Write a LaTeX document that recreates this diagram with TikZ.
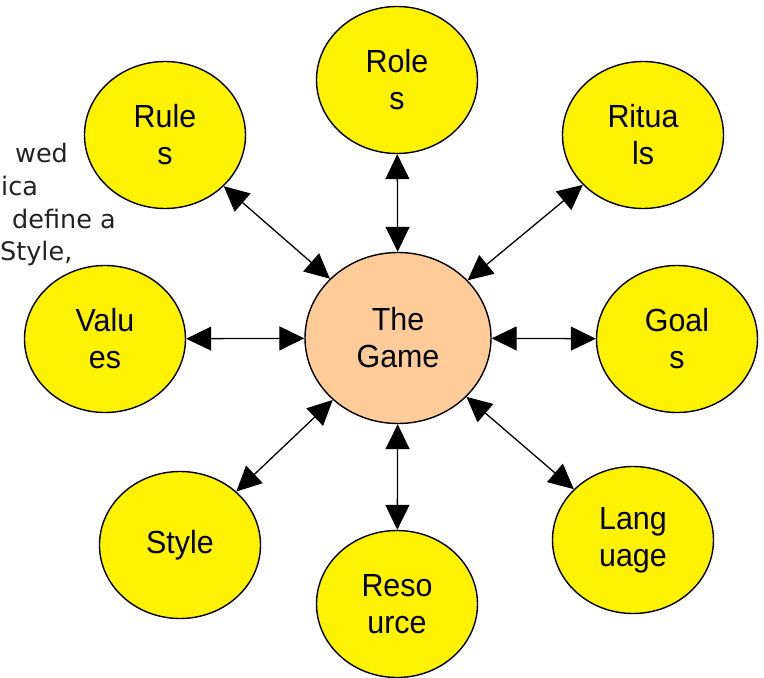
\documentclass[tikz,border=0pt]{standalone}
\usepackage{fontspec}
\setmainfont{Liberation Sans}
\newfontfamily\nodefont[FakeStretch=0.95]{Liberation Sans}
\newfontfamily\sidefont{DejaVu Sans}
\usetikzlibrary{shapes.geometric,arrows.meta}
\definecolor{peach}{HTML}{FFCC99}
\definecolor{sidegray}{HTML}{222222}
\tikzset{
  bubble/.style={ellipse, draw=black, line width=1.4bp, fill=yellow, inner sep=0pt,
    minimum width=161bp, minimum height=147bp, align=center,
    font=\nodefont\fontsize{32bp}{37bp}\selectfont},
  gamebubble/.style={bubble, fill=peach, minimum width=186bp, minimum height=171bp},
  link/.style={line width=1.3bp, {Triangle[length=25bp,width=24bp]}-{Triangle[length=25bp,width=24bp]}},
  sidetext/.style={anchor=base west, inner sep=0pt, text=sidegray,
    font=\sidefont\fontsize{25.5bp}{30bp}\selectfont}
}
\begin{document}
\begin{tikzpicture}[x=1bp,y=-1bp]
\useasboundingbox (0,0) rectangle (764,678);
% partially visible side text
\node[sidetext] (t1) at (15,162) {wed};
\node[sidetext] (t2) at (1,195) {ica};
\node[sidetext] (t3) at (12,228) {define a};
\node[sidetext] (t4) at (0,260) {Style,};
% nodes
\node[gamebubble] (game) at (398,338) {The\\Game};
\node[bubble] (roles) at (397,80) {Role\\s};
\node[bubble] (rules) at (165,135) {Rule\\s};
\node[bubble] (rituals) at (643,135) {Ritua\\ls};
\node[bubble] (values) at (105,339) {Valu\\es};
\node[bubble] (goals) at (677,339) {Goal\\s};
\node[bubble] (style) at (180,545) {Style};
\node[bubble] (resource) at (397,604) {Reso\\urce};
\node[bubble] (language) at (633,540) {Lang\\uage};
% connectors
\draw[link] (roles) -- (game);
\draw[link] (rules) -- (game);
\draw[link] (rituals) -- (game);
\draw[link] (values) -- (game);
\draw[link] (goals) -- (game);
\draw[link] (style) -- (game);
\draw[link] (resource) -- (game);
\draw[link] (language) -- (game);
\end{tikzpicture}
\end{document}
